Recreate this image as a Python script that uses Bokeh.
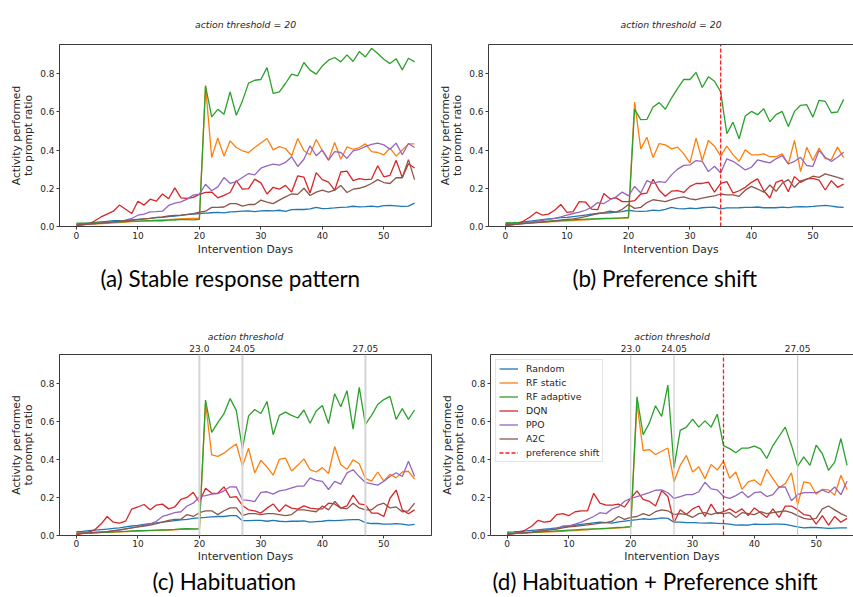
from bokeh.plotting import figure
from bokeh.models import Range1d, FixedTicker, LinearAxis, Span, Title, PrintfTickFormatter
from bokeh.layouts import row, column
from bokeh.embed import file_html
from bokeh.resources import INLINE

days = list(range(56))
SERIES = ["Random", "RF static", "RF adaptive", "DQN", "PPO", "A2C"]
COLORS = ["#1f77b4", "#ff7f0e", "#2ca02c", "#d62728", "#9467bd", "#8c564b"]
X_TICKS = [0, 10, 20, 30, 40, 50]
Y_TICKS = [0.0, 0.2, 0.4, 0.6, 0.8]
THRESHOLD_DAYS = [20, 27, 47]
THRESHOLD_LABELS = ["23.0", "24.05", "27.05"]
SHIFT_DAY = 35

# ---------------- (a) Stable response pattern ----------------
a_random = [0.012, 0.015, 0.018, 0.021, 0.024, 0.027, 0.030, 0.031, 0.032, 0.034,
            0.037, 0.040, 0.043, 0.046, 0.048, 0.052, 0.055, 0.058, 0.062, 0.065,
            0.068, 0.070, 0.072, 0.074, 0.071, 0.076, 0.078, 0.080, 0.082, 0.078,
            0.082, 0.083, 0.082, 0.085, 0.079, 0.088, 0.090, 0.089, 0.092, 0.100,
            0.094, 0.095, 0.097, 0.100, 0.101, 0.106, 0.103, 0.104, 0.107, 0.103,
            0.109, 0.110, 0.108, 0.105, 0.107, 0.122]
a_rfstatic = [0.010, 0.011, 0.012, 0.013, 0.015, 0.017, 0.019, 0.021, 0.023, 0.025,
              0.027, 0.029, 0.031, 0.033, 0.035, 0.036, 0.038, 0.040, 0.041, 0.042,
              0.043, 0.737, 0.361, 0.463, 0.368, 0.448, 0.413, 0.396, 0.387, 0.413,
              0.437, 0.460, 0.401, 0.418, 0.408, 0.370, 0.460, 0.396, 0.375, 0.455,
              0.396, 0.347, 0.439, 0.352, 0.416, 0.404, 0.413, 0.432, 0.392, 0.387,
              0.375, 0.410, 0.368, 0.400, 0.432, 0.432]
a_rfadaptive = [0.018, 0.017, 0.018, 0.019, 0.020, 0.021, 0.022, 0.024, 0.026, 0.028,
                0.028, 0.029, 0.030, 0.031, 0.030, 0.033, 0.034, 0.037, 0.036, 0.035,
                0.037, 0.735, 0.573, 0.613, 0.587, 0.704, 0.582, 0.657, 0.750, 0.765,
                0.769, 0.831, 0.696, 0.704, 0.748, 0.797, 0.788, 0.858, 0.818, 0.797,
                0.840, 0.870, 0.884, 0.861, 0.898, 0.863, 0.915, 0.887, 0.932, 0.905,
                0.875, 0.852, 0.878, 0.819, 0.880, 0.861]
a_dqn = [0.005, 0.008, 0.012, 0.030, 0.050, 0.065, 0.080, 0.112, 0.090, 0.068,
         0.132, 0.112, 0.143, 0.133, 0.170, 0.145, 0.202, 0.150, 0.147, 0.152,
         0.168, 0.178, 0.180, 0.150, 0.163, 0.178, 0.240, 0.195, 0.198, 0.248,
         0.228, 0.170, 0.205, 0.195, 0.215, 0.180, 0.265, 0.258, 0.175, 0.282,
         0.245, 0.232, 0.190, 0.285, 0.290, 0.240, 0.250, 0.245, 0.248, 0.318,
         0.260, 0.268, 0.346, 0.256, 0.328, 0.306]
a_ppo = [0.008, 0.010, 0.012, 0.015, 0.018, 0.020, 0.023, 0.027, 0.033, 0.042,
         0.059, 0.065, 0.077, 0.078, 0.080, 0.110, 0.122, 0.129, 0.143, 0.164,
         0.169, 0.221, 0.187, 0.207, 0.256, 0.226, 0.235, 0.256, 0.277, 0.270,
         0.305, 0.317, 0.326, 0.321, 0.335, 0.365, 0.314, 0.352, 0.422, 0.370,
         0.400, 0.347, 0.392, 0.387, 0.356, 0.396, 0.404, 0.418, 0.430, 0.436,
         0.427, 0.404, 0.436, 0.375, 0.434, 0.413]
a_a2c = [0.008, 0.010, 0.012, 0.015, 0.018, 0.020, 0.024, 0.027, 0.030, 0.033,
         0.036, 0.040, 0.043, 0.048, 0.050, 0.055, 0.058, 0.060, 0.063, 0.067,
         0.075, 0.080, 0.100, 0.100, 0.102, 0.120, 0.120, 0.107, 0.115, 0.115,
         0.138, 0.128, 0.120, 0.138, 0.155, 0.170, 0.168, 0.200, 0.162, 0.180,
         0.190, 0.180, 0.190, 0.215, 0.178, 0.195, 0.200, 0.210, 0.225, 0.245,
         0.230, 0.225, 0.255, 0.255, 0.350, 0.245]

# ---------------- (b) Preference shift ----------------
b_random = [0.015, 0.017, 0.020, 0.024, 0.028, 0.032, 0.036, 0.040, 0.043, 0.046,
            0.048, 0.052, 0.056, 0.060, 0.064, 0.068, 0.070, 0.072, 0.075, 0.078,
            0.085, 0.080, 0.079, 0.080, 0.086, 0.083, 0.090, 0.100, 0.094, 0.092,
            0.096, 0.093, 0.098, 0.100, 0.101, 0.092, 0.097, 0.097, 0.098, 0.100,
            0.100, 0.102, 0.098, 0.099, 0.098, 0.101, 0.099, 0.103, 0.104, 0.103,
            0.105, 0.108, 0.110, 0.107, 0.102, 0.100]
b_rfstatic = [0.010, 0.012, 0.014, 0.016, 0.018, 0.020, 0.022, 0.024, 0.026, 0.028,
              0.030, 0.031, 0.033, 0.035, 0.037, 0.039, 0.040, 0.041, 0.043, 0.044,
              0.045, 0.651, 0.406, 0.467, 0.360, 0.434, 0.427, 0.406, 0.415, 0.380,
              0.333, 0.462, 0.345, 0.450, 0.420, 0.368, 0.420, 0.376, 0.341, 0.401,
              0.375, 0.375, 0.380, 0.365, 0.365, 0.380, 0.327, 0.450, 0.287, 0.415,
              0.345, 0.410, 0.355, 0.350, 0.415, 0.360]
b_rfadaptive = [0.020, 0.019, 0.020, 0.021, 0.022, 0.024, 0.026, 0.028, 0.030, 0.032,
                0.034, 0.035, 0.037, 0.038, 0.040, 0.041, 0.042, 0.043, 0.044, 0.045,
                0.047, 0.613, 0.559, 0.560, 0.625, 0.648, 0.613, 0.672, 0.722, 0.769,
                0.769, 0.806, 0.727, 0.783, 0.760, 0.704, 0.485, 0.546, 0.459, 0.578,
                0.602, 0.585, 0.616, 0.548, 0.585, 0.602, 0.523, 0.602, 0.634, 0.637,
                0.572, 0.660, 0.655, 0.595, 0.599, 0.665]
b_dqn = [0.005, 0.008, 0.012, 0.030, 0.050, 0.075, 0.060, 0.065, 0.085, 0.115,
         0.074, 0.078, 0.130, 0.128, 0.091, 0.088, 0.173, 0.145, 0.150, 0.130,
         0.130, 0.135, 0.170, 0.175, 0.247, 0.190, 0.158, 0.185, 0.188, 0.178,
         0.210, 0.225, 0.225, 0.232, 0.180, 0.225, 0.235, 0.175, 0.187, 0.205,
         0.231, 0.249, 0.187, 0.149, 0.231, 0.243, 0.182, 0.261, 0.231, 0.249,
         0.252, 0.243, 0.191, 0.240, 0.205, 0.222]
b_ppo = [0.008, 0.010, 0.013, 0.017, 0.022, 0.027, 0.032, 0.037, 0.043, 0.050,
         0.060, 0.068, 0.075, 0.085, 0.100, 0.125, 0.120, 0.140, 0.155, 0.180,
         0.160, 0.210, 0.175, 0.240, 0.226, 0.235, 0.231, 0.270, 0.300, 0.320,
         0.322, 0.345, 0.341, 0.287, 0.315, 0.280, 0.354, 0.341, 0.319, 0.296,
         0.310, 0.348, 0.340, 0.333, 0.354, 0.371, 0.327, 0.341, 0.362, 0.319,
         0.315, 0.397, 0.362, 0.340, 0.362, 0.389]
b_a2c = [0.008, 0.010, 0.012, 0.015, 0.018, 0.020, 0.023, 0.026, 0.029, 0.033,
         0.037, 0.040, 0.045, 0.052, 0.060, 0.068, 0.072, 0.080, 0.075, 0.090,
         0.115, 0.095, 0.100, 0.125, 0.140, 0.135, 0.130, 0.140, 0.150, 0.155,
         0.145, 0.140, 0.148, 0.155, 0.160, 0.170, 0.165, 0.165, 0.158, 0.190,
         0.210, 0.196, 0.180, 0.217, 0.184, 0.226, 0.245, 0.205, 0.238, 0.247,
         0.263, 0.257, 0.275, 0.266, 0.257, 0.247]

# ---------------- (c) Habituation ----------------
c_random = [0.020, 0.022, 0.025, 0.028, 0.031, 0.034, 0.037, 0.040, 0.045, 0.050,
            0.053, 0.058, 0.062, 0.066, 0.070, 0.074, 0.078, 0.082, 0.085, 0.090,
            0.093, 0.095, 0.098, 0.100, 0.100, 0.105, 0.105, 0.078, 0.078, 0.080,
            0.080, 0.075, 0.080, 0.075, 0.073, 0.075, 0.075, 0.077, 0.070, 0.073,
            0.075, 0.080, 0.078, 0.080, 0.082, 0.083, 0.083, 0.068, 0.063, 0.063,
            0.060, 0.060, 0.062, 0.060, 0.055, 0.058]
c_rfstatic = [0.012, 0.012, 0.013, 0.014, 0.015, 0.017, 0.018, 0.019, 0.020, 0.022,
              0.023, 0.025, 0.026, 0.027, 0.028, 0.029, 0.030, 0.032, 0.033, 0.034,
              0.035, 0.698, 0.424, 0.416, 0.433, 0.459, 0.481, 0.365, 0.459, 0.329,
              0.395, 0.360, 0.317, 0.400, 0.407, 0.339, 0.369, 0.403, 0.346, 0.334,
              0.357, 0.326, 0.468, 0.372, 0.348, 0.398, 0.377, 0.300, 0.286, 0.334,
              0.286, 0.322, 0.303, 0.334, 0.338, 0.296]
c_rfadaptive = [0.012, 0.012, 0.013, 0.014, 0.016, 0.017, 0.019, 0.020, 0.022, 0.024,
                0.025, 0.026, 0.027, 0.028, 0.029, 0.030, 0.032, 0.035, 0.036, 0.035,
                0.035, 0.712, 0.542, 0.594, 0.641, 0.720, 0.658, 0.455, 0.629, 0.663,
                0.642, 0.705, 0.530, 0.632, 0.649, 0.632, 0.618, 0.660, 0.590, 0.655,
                0.684, 0.589, 0.746, 0.677, 0.762, 0.559, 0.779, 0.585, 0.632, 0.689,
                0.715, 0.732, 0.611, 0.667, 0.611, 0.660]
c_dqn = [0.005, 0.010, 0.018, 0.030, 0.060, 0.100, 0.070, 0.065, 0.075, 0.139,
         0.150, 0.163, 0.135, 0.160, 0.165, 0.140, 0.150, 0.190, 0.200, 0.227,
         0.176, 0.248, 0.222, 0.222, 0.256, 0.200, 0.204, 0.158, 0.135, 0.130,
         0.118, 0.144, 0.166, 0.126, 0.161, 0.144, 0.139, 0.156, 0.144, 0.140,
         0.140, 0.170, 0.166, 0.144, 0.156, 0.213, 0.166, 0.161, 0.118, 0.118,
         0.100, 0.196, 0.239, 0.135, 0.114, 0.135]
c_ppo = [0.010, 0.012, 0.014, 0.016, 0.018, 0.020, 0.024, 0.028, 0.035, 0.040,
         0.045, 0.055, 0.060, 0.075, 0.100, 0.110, 0.120, 0.125, 0.155, 0.170,
         0.204, 0.210, 0.218, 0.220, 0.235, 0.256, 0.255, 0.187, 0.185, 0.178,
         0.227, 0.230, 0.218, 0.235, 0.240, 0.250, 0.260, 0.260, 0.303, 0.290,
         0.285, 0.242, 0.285, 0.270, 0.329, 0.346, 0.310, 0.279, 0.272, 0.265,
         0.285, 0.310, 0.330, 0.310, 0.390, 0.310]
c_a2c = [0.010, 0.012, 0.014, 0.016, 0.018, 0.020, 0.025, 0.030, 0.035, 0.040,
         0.045, 0.050, 0.055, 0.062, 0.070, 0.080, 0.085, 0.085, 0.110, 0.100,
         0.120, 0.130, 0.130, 0.110, 0.130, 0.145, 0.145, 0.105, 0.115, 0.115,
         0.110, 0.115, 0.115, 0.110, 0.105, 0.110, 0.135, 0.135, 0.130, 0.125,
         0.155, 0.135, 0.180, 0.145, 0.140, 0.170, 0.145, 0.135, 0.135, 0.160,
         0.170, 0.145, 0.150, 0.125, 0.130, 0.170]

# ---------------- (d) Habituation + Preference shift ----------------
d_random = [0.018, 0.019, 0.021, 0.024, 0.027, 0.030, 0.033, 0.036, 0.040, 0.045,
            0.050, 0.054, 0.058, 0.062, 0.066, 0.070, 0.068, 0.065, 0.072, 0.076,
            0.080, 0.083, 0.088, 0.085, 0.088, 0.093, 0.090, 0.070, 0.070, 0.068,
            0.068, 0.066, 0.065, 0.066, 0.064, 0.062, 0.060, 0.055, 0.056, 0.054,
            0.060, 0.058, 0.058, 0.060, 0.060, 0.058, 0.052, 0.045, 0.040, 0.042,
            0.042, 0.040, 0.037, 0.039, 0.040, 0.040]
d_rfstatic = [0.010, 0.011, 0.012, 0.013, 0.015, 0.016, 0.018, 0.019, 0.021, 0.022,
              0.024, 0.026, 0.028, 0.030, 0.033, 0.035, 0.036, 0.038, 0.040, 0.042,
              0.045, 0.696, 0.447, 0.452, 0.426, 0.443, 0.460, 0.283, 0.369, 0.421,
              0.334, 0.362, 0.299, 0.374, 0.344, 0.391, 0.301, 0.334, 0.243, 0.282,
              0.292, 0.264, 0.348, 0.299, 0.252, 0.273, 0.330, 0.162, 0.282, 0.275,
              0.217, 0.243, 0.240, 0.212, 0.317, 0.240]
d_rfadaptive = [0.012, 0.012, 0.013, 0.014, 0.016, 0.018, 0.020, 0.022, 0.024, 0.026,
                0.028, 0.030, 0.032, 0.034, 0.035, 0.036, 0.038, 0.040, 0.042, 0.044,
                0.047, 0.730, 0.530, 0.591, 0.682, 0.626, 0.791, 0.357, 0.553, 0.570,
                0.612, 0.570, 0.603, 0.570, 0.638, 0.473, 0.457, 0.435, 0.460, 0.460,
                0.470, 0.456, 0.405, 0.473, 0.522, 0.570, 0.475, 0.365, 0.414, 0.369,
                0.475, 0.430, 0.343, 0.386, 0.510, 0.369]
d_dqn = [0.005, 0.010, 0.015, 0.030, 0.050, 0.080, 0.070, 0.075, 0.110, 0.115,
         0.105, 0.125, 0.130, 0.130, 0.222, 0.170, 0.160, 0.160, 0.165, 0.150,
         0.195, 0.235, 0.190, 0.180, 0.155, 0.235, 0.205, 0.068, 0.135, 0.110,
         0.140, 0.155, 0.100, 0.165, 0.115, 0.125, 0.140, 0.120, 0.140, 0.105,
         0.145, 0.120, 0.095, 0.140, 0.095, 0.155, 0.155, 0.135, 0.110, 0.105,
         0.060, 0.105, 0.055, 0.100, 0.070, 0.090]
d_ppo = [0.008, 0.010, 0.012, 0.015, 0.018, 0.025, 0.028, 0.032, 0.035, 0.050,
         0.050, 0.060, 0.070, 0.085, 0.100, 0.120, 0.115, 0.140, 0.150, 0.180,
         0.195, 0.205, 0.215, 0.225, 0.238, 0.240, 0.225, 0.195, 0.205, 0.215,
         0.215, 0.230, 0.280, 0.245, 0.240, 0.205, 0.195, 0.210, 0.230, 0.200,
         0.225, 0.230, 0.205, 0.215, 0.255, 0.255, 0.183, 0.215, 0.225, 0.225,
         0.225, 0.240, 0.225, 0.255, 0.215, 0.285]
d_a2c = [0.008, 0.010, 0.012, 0.015, 0.018, 0.022, 0.026, 0.030, 0.034, 0.040,
         0.045, 0.048, 0.052, 0.056, 0.060, 0.065, 0.068, 0.075, 0.100, 0.085,
         0.095, 0.100, 0.115, 0.105, 0.125, 0.135, 0.130, 0.110, 0.115, 0.110,
         0.095, 0.115, 0.120, 0.110, 0.120, 0.115, 0.120, 0.095, 0.120, 0.115,
         0.110, 0.125, 0.115, 0.120, 0.125, 0.130, 0.120, 0.105, 0.090, 0.085,
         0.090, 0.140, 0.155, 0.135, 0.115, 0.100]

PANEL_A = [a_random, a_rfstatic, a_rfadaptive, a_dqn, a_ppo, a_a2c]
PANEL_B = [b_random, b_rfstatic, b_rfadaptive, b_dqn, b_ppo, b_a2c]
PANEL_C = [c_random, c_rfstatic, c_rfadaptive, c_dqn, c_ppo, c_a2c]
PANEL_D = [d_random, d_rfstatic, d_rfadaptive, d_dqn, d_ppo, d_a2c]

Y_MIN, Y_MAX = 0.0, 0.952
INK = "#262626"
SPINE = "#3c3c3c"
MPL_FONT = "DejaVu Sans"


def style_axis(ax):
    ax.axis_line_color = SPINE
    ax.axis_line_width = 1
    ax.major_tick_line_color = SPINE
    ax.major_tick_out = 3
    ax.major_tick_in = 0
    ax.minor_tick_line_color = None
    ax.minor_tick_out = 0
    ax.minor_tick_in = 0
    ax.major_label_text_font = MPL_FONT
    ax.major_label_text_font_size = "9px"
    ax.major_label_text_color = INK
    ax.major_label_standoff = 2
    ax.axis_label_text_font = MPL_FONT
    ax.axis_label_text_font_size = "10.7px"
    ax.axis_label_text_font_style = "normal"
    ax.axis_label_text_color = INK
    ax.axis_label_text_line_height = 0.9
    ax.axis_label_standoff = 1


def panel(series, caption, width, height, borders, x_range, cap_offset, cap_standoff,
          title=None, thresholds=False, shift=False, legend=False, right_outline=True,
          tight_bottom=False):
    bl, br, bt, bb = borders
    p = figure(width=width, height=height, title=title,
               x_range=Range1d(*x_range), y_range=Range1d(Y_MIN, Y_MAX),
               output_backend="svg", toolbar_location=None,
               min_border_left=bl, min_border_right=br,
               min_border_top=bt, min_border_bottom=bb,
               background_fill_color="white", border_fill_color="white")
    p.grid.visible = False
    p.outline_line_color = SPINE if right_outline else None
    p.outline_line_width = 1

    for vals, name, col in zip(series, SERIES, COLORS):
        if legend:
            p.line(days, vals, line_color=col, line_width=1.3, legend_label=name)
        else:
            p.line(days, vals, line_color=col, line_width=1.3)

    p.xaxis.ticker = FixedTicker(ticks=X_TICKS)
    p.yaxis.ticker = FixedTicker(ticks=Y_TICKS)
    p.yaxis.formatter = PrintfTickFormatter(format="%.1f")
    p.xaxis.axis_label = "Intervention Days"
    p.yaxis.axis_label = "Activity performed\nto prompt ratio"
    for ax in p.xaxis + p.yaxis:
        style_axis(ax)
    p.yaxis.axis_label_standoff = 2
    if tight_bottom:
        p.xaxis.major_label_standoff = 1
        p.xaxis.axis_label_standoff = 0

    if title is not None:
        p.title.align = "center"
        p.title.text_font = MPL_FONT
        p.title.text_font_size = "9.3px"
        p.title.text_font_style = "italic"
        p.title.text_color = INK
        p.title.standoff = 29

    if thresholds:
        for d in THRESHOLD_DAYS:
            p.add_layout(Span(location=d, dimension="height",
                              line_color="#d5d5d5" if not shift else "#c4c4c4",
                              line_width=2 if not shift else 1))
        top = LinearAxis(ticker=FixedTicker(ticks=THRESHOLD_DAYS),
                         major_label_overrides=dict(zip(THRESHOLD_DAYS, THRESHOLD_LABELS)),
                         axis_label="action threshold")
        style_axis(top)
        top.major_tick_line_color = None
        top.major_tick_out = 0
        top.major_label_standoff = 3
        top.axis_label_text_font_style = "italic"
        top.axis_label_text_font_size = "9.3px"
        top.axis_label_standoff = 0
        p.add_layout(top, "above")
    elif not right_outline:
        top = LinearAxis(ticker=FixedTicker(ticks=[]))
        style_axis(top)
        top.major_label_text_font_size = "0px"
        top.major_label_standoff = 0
        top.major_tick_out = 0
        p.add_layout(top, "above")

    if shift:
        kw = dict(legend_label="preference shift") if legend else {}
        p.segment(x0=[SHIFT_DAY], x1=[SHIFT_DAY], y0=[Y_MIN], y1=[Y_MAX],
                  line_color="#ff1a1a", line_width=1.3, line_dash="4 2", **kw)

    if legend:
        lg = p.legend[0]
        lg.location = "top_left"
        lg.margin = 5
        lg.padding = 3
        lg.spacing = 3
        lg.label_height = 11
        lg.glyph_height = 11
        lg.glyph_width = 19
        lg.label_standoff = 8
        lg.label_text_font = MPL_FONT
        lg.label_text_font_size = "9.3px"
        lg.label_text_color = INK
        lg.border_line_color = "#cccccc"
        lg.border_line_width = 1
        lg.background_fill_color = "white"
        lg.background_fill_alpha = 0.8

    cap = Title(text=caption, align="left", offset=cap_offset,
                text_font="Lato", text_font_size="22.4px",
                text_font_style="normal", text_color="black", standoff=cap_standoff)
    p.add_layout(cap, "below")
    return p


pa = panel(PANEL_A, "(a) Stable response pattern", 432, 299, (59, 1, 43, 73),
           (-2.75, 57.75), 41, 8, title="action threshold = 20")
pb = panel(PANEL_B, "(b) Preference shift", 421, 299, (56, 0, 44, 73),
           (-2.76, 56.6), 84, 8, title="action threshold = 20", shift=True,
           right_outline=False)
pc = panel(PANEL_C, "(c) Habituation", 432, 298, (59, 1, 53, 62),
           (-2.75, 57.75), 93, 0, thresholds=True, tight_bottom=True)
pd = panel(PANEL_D, "(d) Habituation + Preference shift", 421, 298, (58, 0, 55, 61),
           (-2.7, 56.04), 2, 0, thresholds=True, shift=True, legend=True,
           right_outline=False, tight_bottom=True)

layout = column(row(pa, pb), row(pc, pd))
open("out.html", "w").write(file_html(layout, INLINE))
